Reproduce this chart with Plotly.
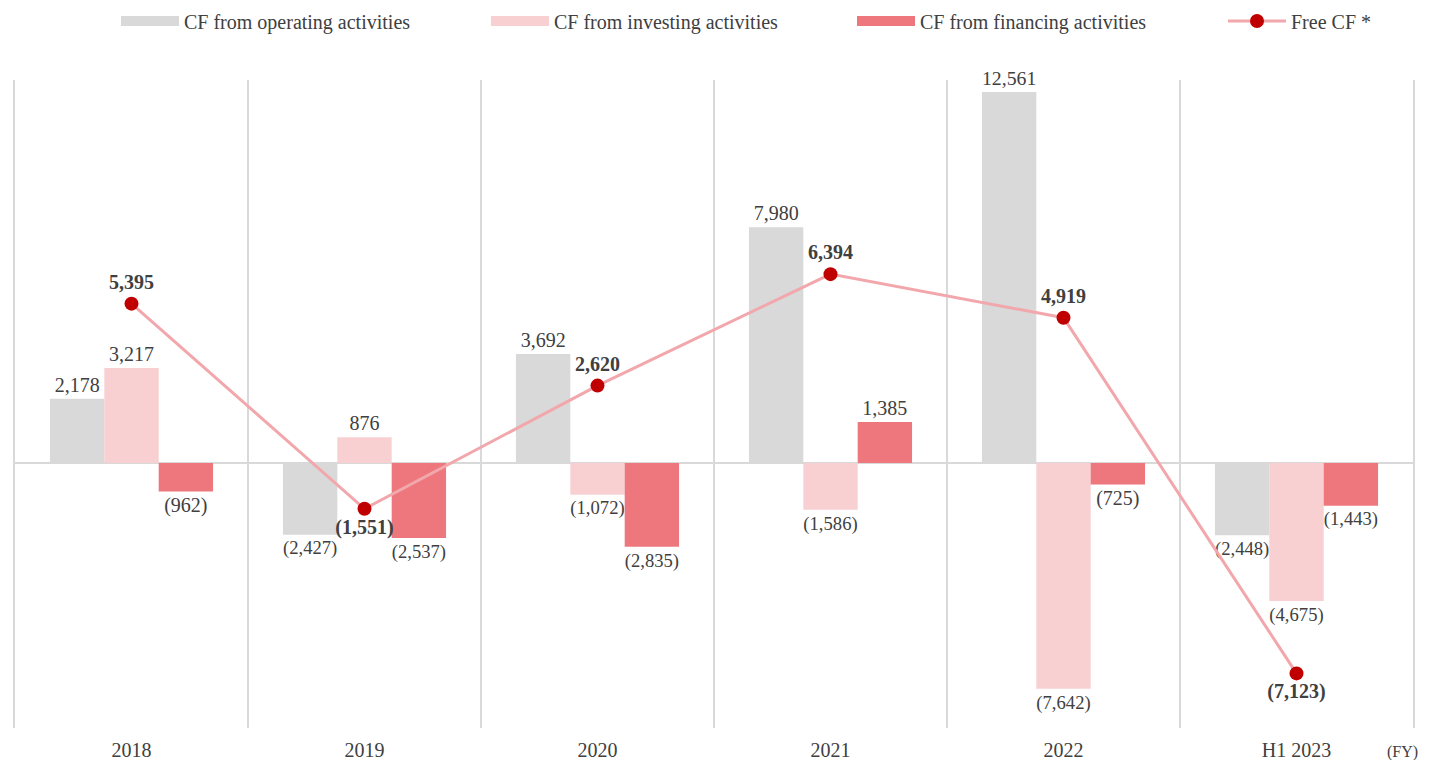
import plotly.graph_objects as go

years = ["2018", "2019", "2020", "2021", "2022", "H1 2023"]
operating = [2178, -2427, 3692, 7980, 12561, -2448]
investing = [3217, 876, -1072, -1586, -7642, -4675]
financing = [-962, -2537, -2835, 1385, -725, -1443]
free_cf = [5395, -1551, 2620, 6394, 4919, -7123]

names = ["CF from operating activities", "CF from investing activities",
         "CF from financing activities"]
colors = ["#d9d9d9", "#f8d0d2", "#ed777d"]

FONT = "Liberation Serif, Times New Roman, serif"
TXT = "#404040"
GRID = "#d9d9d9"
FS = 20
OFF = 8  # page body margin


def fmt(v):
    return f"({abs(v):,})" if v < 0 else f"{v:,}"


fig = go.Figure()
for name, vals, col in zip(names, [operating, investing, financing], colors):
    fig.add_trace(go.Bar(
        x=years, y=vals, name=name, showlegend=False,
        marker=dict(color=col, line_width=0),
        text=[fmt(v) for v in vals], textposition="outside",
        textfont=dict(family=FONT, size=FS, color=TXT), cliponaxis=False,
    ))

fig.add_trace(go.Scatter(
    x=years, y=free_cf, name="Free CF *", legend="legend4", mode="lines+markers+text",
    line=dict(color="#f2a7ac", width=3),
    marker=dict(color="#c00000", size=14),
    text=[f"<b>{fmt(v)}</b>" for v in free_cf],
    textposition=["top center", "bottom center", "top center",
                  "top center", "top center", "bottom center"],
    textfont=dict(family=FONT, size=FS, color=TXT), cliponaxis=False,
))

# wide flat legend swatches for the bar series
for name, col, leg in zip(names, colors, ["legend", "legend2", "legend3"]):
    fig.add_trace(go.Scatter(
        x=[None], y=[None], name=name, legend=leg, mode="lines",
        line=dict(color=col, width=10),
    ))


def leg(text_x):
    return dict(orientation="h", xref="container", yref="container",
                x=(text_x - OFF - 68) / 1430, xanchor="left",
                y=1 - 13 / 760, yanchor="middle", itemwidth=58,
                font=dict(size=FS), bgcolor="rgba(0,0,0,0)")


fig.update_layout(
    width=1430, height=760,
    margin=dict(l=15 - OFF, r=1430 - 1413 + OFF, t=80 - OFF, b=760 - 728 + OFF),
    plot_bgcolor="white", paper_bgcolor="white",
    font=dict(family=FONT, size=FS, color=TXT),
    barmode="group", bargap=0.3, bargroupgap=0,
    showlegend=True,
    legend=leg(184), legend2=leg(554), legend3=leg(920), legend4=leg(1291),
)
fig.update_xaxes(
    type="category", tickson="boundaries", showgrid=True, gridcolor=GRID, gridwidth=2,
    ticks="", showline=False, tickfont=dict(size=FS), automargin=False,
    ticklabelstandoff=8,
)
fig.update_yaxes(
    range=[-8971, 12966], showgrid=False, showticklabels=False, automargin=False,
    zeroline=True, zerolinecolor=GRID, zerolinewidth=2,
    showline=True, linecolor=GRID, linewidth=2, mirror=True,
)
fig.add_annotation(
    text="(FY)", xref="paper", yref="paper", x=1.0, y=0, xshift=7, yshift=-13,
    xanchor="right", yanchor="top", showarrow=False, font=dict(size=16, color=TXT),
)

fig.write_html("out.html")
